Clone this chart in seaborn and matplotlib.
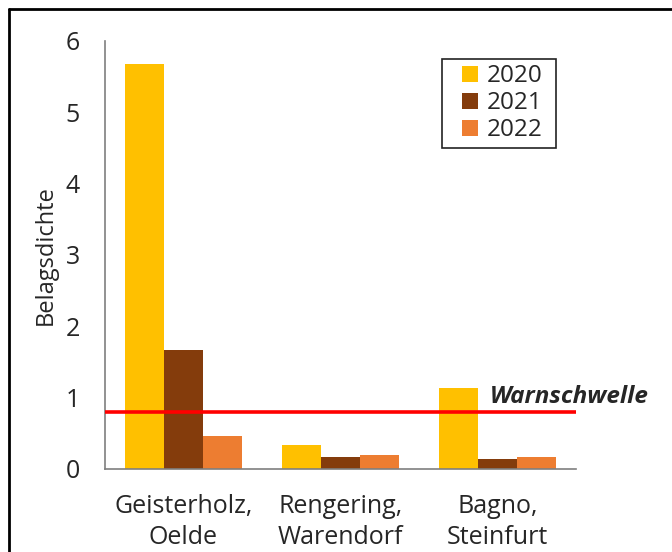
import pandas as pd
import matplotlib.pyplot as plt
import seaborn as sns
from matplotlib.lines import Line2D
from matplotlib.patches import Rectangle

# data
standorte = ['Geisterholz,\nOelde', 'Rengering,\nWarendorf', 'Bagno,\nSteinfurt']
jahre = ['2020', '2021', '2022']
werte_2020 = [5.68, 0.34, 1.13]
werte_2021 = [1.67, 0.17, 0.14]
werte_2022 = [0.46, 0.20, 0.17]
warnschwelle = 0.8

farben = ['#FFC000', '#843C0C', '#ED7D31']

df = pd.DataFrame({
    'Standort': standorte * 3,
    'Jahr': [j for j in jahre for _ in standorte],
    'Belagsdichte': werte_2020 + werte_2021 + werte_2022,
})

sns.set_style('white')
plt.rcParams['font.family'] = ['Open Sans', 'DejaVu Sans']

W, H = 672, 552
fig = plt.figure(figsize=(6.72, 5.52), dpi=100)
ax = fig.add_axes([105 / W, 83 / H, 471 / W, 428 / H])

sns.barplot(data=df, x='Standort', y='Belagsdichte', hue='Jahr',
            palette=farben, width=0.75, gap=0, saturation=1,
            linewidth=0, ax=ax)

ax.set_xlim(-0.5, 2.5)
ax.set_ylim(0, 6)
ax.set_yticks(range(7))
ax.set_xlabel('')
ax.set_ylabel('Belagsdichte', fontsize=17, labelpad=6)

# Excel style: ticks between categories
ax.set_xticks([-0.5, 0.5, 1.5, 2.5], minor=True)
ax.tick_params(axis='x', which='major', length=0, pad=18, labelsize=18)
ax.tick_params(axis='x', which='minor', length=8, width=1.2, color='#7f7f7f', direction='out')
ax.tick_params(axis='y', length=8, width=1.2, color='#7f7f7f', direction='out', pad=10, labelsize=18)
for lbl in ax.get_xticklabels():
    lbl.set_linespacing(1.3)

for s in ['top', 'right']:
    ax.spines[s].set_visible(False)
for s in ['left', 'bottom']:
    ax.spines[s].set_color('#7f7f7f')
    ax.spines[s].set_linewidth(1.2)

# threshold line
ax.axhline(warnschwelle, color='#FF0000', lw=2.6, zorder=5)
ax.text(1.95, 0.93, 'Warnschwelle', fontsize=17.5, fontweight='bold', fontstyle='italic',
        va='baseline', ha='left', clip_on=False)

# legend without frame, box drawn separately (Excel has wider side padding)
handles, labels = ax.get_legend_handles_labels()
leg = ax.legend(handles, labels, loc='upper left',
                bbox_to_anchor=(457 / W, 1 - 59 / H), bbox_transform=fig.transFigure,
                fontsize=17.5, frameon=False,
                handlelength=0.65, handleheight=0.65, handletextpad=0.35,
                labelspacing=0.12, borderpad=0.22, borderaxespad=0)
fig.add_artist(Rectangle((442 / W, 1 - 148 / H), 114 / W, 89 / H, transform=fig.transFigure,
                         fill=False, edgecolor='#222222', lw=1.2))

# frame around the figure (top and left edges only)
fig.add_artist(Line2D([9 / W, 1], [1 - 9 / H, 1 - 9 / H], color='black', lw=2, transform=fig.transFigure))
fig.add_artist(Line2D([9 / W, 9 / W], [0, 1 - 9 / H], color='black', lw=2, transform=fig.transFigure))

fig.savefig('out.png', dpi=100)
